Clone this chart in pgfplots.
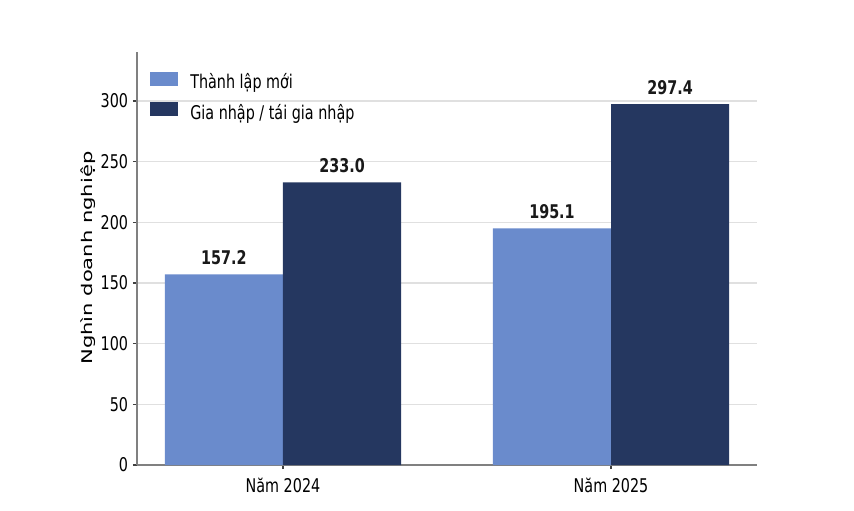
\documentclass[border=0pt]{standalone}
\usepackage{fontspec}
\setmainfont{DejaVu Sans}[FakeStretch=0.76]
\newfontfamily\ylabfont{DejaVu Sans}[FakeStretch=1.43]
\usepackage{pgfplots}
\pgfplotsset{compat=1.18}
\definecolor{lightb}{HTML}{6A8BCC}
\definecolor{darkb}{HTML}{253760}
\begin{document}
\begin{tikzpicture}
\useasboundingbox (-137*0.72pt,-45*0.72pt) rectangle (717*0.72pt,465*0.72pt);
\begin{axis}[
  scale only axis,
  width=446.4pt, height=297.36pt,
  xmin=-0.445, xmax=1.445,
  ymin=0, ymax=340.4,
  axis lines*=left,
  axis line style={color=black!50, line width=0.8pt},
  ytick={0,50,100,150,200,250,300},
  xtick={0,1},
  xticklabels={Năm 2024, Năm 2025},
  xticklabel style={yshift=-3pt},
  ymajorgrids,
  major grid style={color=black!12, line width=0.8pt},
  tick align=outside,
  major tick length=2.9pt,
  tick style={color=black!75, line width=0.8pt},
  font=\fontsize{13.6}{16}\selectfont,
  /pgf/number format/assume math mode=true,
  ylabel={\ylabfont\fontsize{10.6}{12}\selectfont Nghìn doanh nghiệp},
  ylabel style={at={(axis description cs:-0.079,0.501)}, anchor=center},
  ybar,
  bar width=0.36,
  legend style={at={(rel axis cs:0.021,0.952)}, anchor=north west, draw=none, fill=none,
    inner sep=0pt, row sep=6.8pt,
    nodes={inner sep=0pt, text height=10pt, text depth=3pt},
    /tikz/every odd column/.append style={column sep=8.6pt}},
  legend cell align=left,
  legend image code/.code={\fill[#1] (0pt,-1.5pt) rectangle (20.2pt,8.5pt);},
  nodes near coords={\pgfmathprintnumber[fixed,fixed zerofill,precision=1,assume math mode=true]{\pgfplotspointmeta}},
  every node near coord/.append style={anchor=south, inner sep=0pt, yshift=6.5pt, font=\fontsize{13.6}{16}\selectfont\bfseries, color=black!90},
]
\addplot[fill=lightb, draw=none, bar shift=-0.18] coordinates {(0,157.2) (1,195.1)};
\addplot[fill=darkb, draw=none, bar shift=0.18] coordinates {(0,233.0) (1,297.4)};
\legend{Thành lập mới, Gia nhập / tái gia nhập}
\end{axis}
\end{tikzpicture}
\end{document}
